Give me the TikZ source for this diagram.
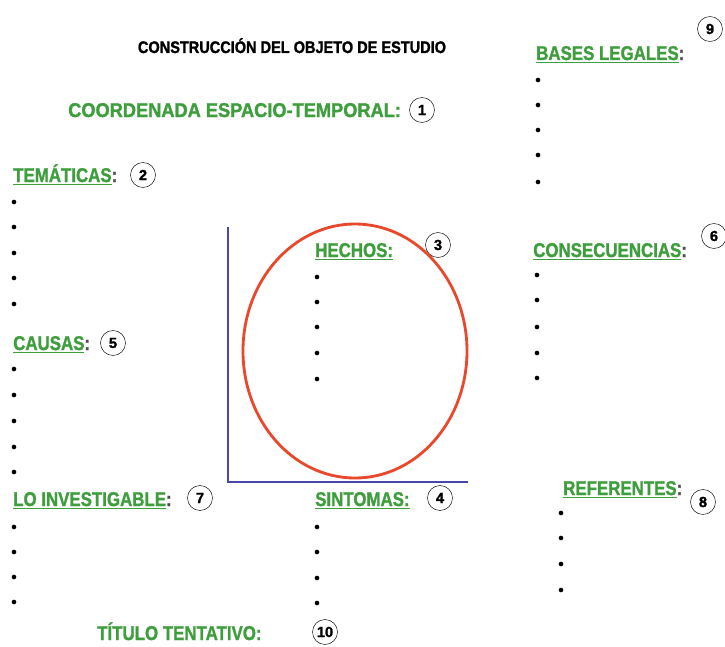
\documentclass[tikz,border=0pt]{standalone}
\usepackage{fontspec}
\setmainfont{Liberation Sans}[BoldFeatures={FakeBold=1.5}]
\usepackage{graphicx}
\usepackage{tikz}
\usetikzlibrary{shapes.geometric}

\definecolor{labelgreen}{RGB}{62,158,62}
\definecolor{axisblue}{RGB}{72,72,170}
\definecolor{ovalred}{RGB}{232,72,44}
\newcommand{\cn}{\textcolor{gray!60!black}{:}}
\newcommand{\tall}[1]{\scalebox{1}[1.18]{#1}}

\tikzset{
  titletext/.style={anchor=base,inner sep=0pt,font=\fontsize{12.4}{14}\selectfont\bfseries},
  greenlabel/.style={anchor=base west,inner sep=0pt,text=labelgreen,font=\fontsize{14.4}{16}\selectfont\bfseries},
  numcirc/.style={circle,draw,thin,inner sep=0pt,minimum size=0.75cm,font=\fontsize{12.5}{14}\selectfont\bfseries},
  dot/.style={circle,fill,inner sep=0pt,minimum size=4pt},
  axis/.style={axisblue,line width=1.3pt},
}

\begin{document}
\begin{tikzpicture}[x=0.03cm,y=-0.03cm]
\useasboundingbox (0,0) rectangle (725,647);

\path (292,53) node[titletext] (title) {\scalebox{1}[1.15]{CONSTRUCCIÓN DEL OBJETO DE ESTUDIO}};

\path (68,117)  node[greenlabel] (coord)  {\scalebox{1.08}[1.18]{COORDENADA ESPACIO-TEMPORAL:}};
\path (13,182)  node[greenlabel] (tema)   {\tall{\underline{TEMÁTICAS}\cn}};
\path (13,350)  node[greenlabel] (causas) {\tall{\underline{CAUSAS}\cn}};
\path (13,506)  node[greenlabel] (invest) {\tall{\underline{LO INVESTIGABLE}\cn}};
\path (97,640)  node[greenlabel] (titulo) {\tall{TÍTULO TENTATIVO:}};
\path (315,506) node[greenlabel] (sinto)  {\tall{\underline{SINTOMAS:}}};
\path (315,257) node[greenlabel] (hechos) {\tall{\underline{HECHOS:}}};
\path (533,257) node[greenlabel] (conse)  {\tall{\underline{CONSECUENCIAS}\cn}};
\path (536,60)  node[greenlabel] (bases)  {\tall{\underline{BASES LEGALES}\cn}};
\path (563,495) node[greenlabel] (refer)  {\tall{\underline{REFERENTES}\cn}};

\path (422,110) node[numcirc] (n1)  {1};
\path (143,175) node[numcirc] (n2)  {2};
\path (438,245) node[numcirc] (n3)  {3};
\path (440,498) node[numcirc] (n4)  {4};
\path (113,343) node[numcirc] (n5)  {5};
\path (714,236) node[numcirc] (n6)  {6};
\path (200,498) node[numcirc] (n7)  {7};
\path (703,502) node[numcirc] (n8)  {8};
\path (710,29)  node[numcirc] (n9)  {9};
\path (325,632) node[numcirc] (n10) {10};

% bullet lists
\foreach \y [count=\i] in {202,227,253,278,304}
  \path (14,\y) node[dot] (tema-\i) {};
\foreach \y [count=\i] in {369,395,421,447,472}
  \path (14,\y) node[dot] (causas-\i) {};
\foreach \y [count=\i] in {527,552,577,602}
  \path (14,\y) node[dot] (invest-\i) {};
\foreach \y [count=\i] in {527,552,578,603}
  \path (317,\y) node[dot] (sinto-\i) {};
\foreach \y [count=\i] in {277,302,327,353,379}
  \path (317,\y) node[dot] (hechos-\i) {};
\foreach \y [count=\i] in {275,300,327,353,378}
  \path (537,\y) node[dot] (conse-\i) {};
\foreach \y [count=\i] in {80,105,130,155,182}
  \path (538,\y) node[dot] (bases-\i) {};
\foreach \y [count=\i] in {513,538,564,590}
  \path (561,\y) node[dot] (refer-\i) {};

% axes and oval
\coordinate (ytop)   at (228,227);
\coordinate (origin) at (228,482);
\coordinate (xend)   at (468,482);
\draw [axis] (ytop) -- (origin) -- (xend);
\path (355,351) node[ellipse,draw=ovalred,line width=2.4pt,minimum width=6.72cm,minimum height=7.62cm] (oval) {};
\end{tikzpicture}
\end{document}
